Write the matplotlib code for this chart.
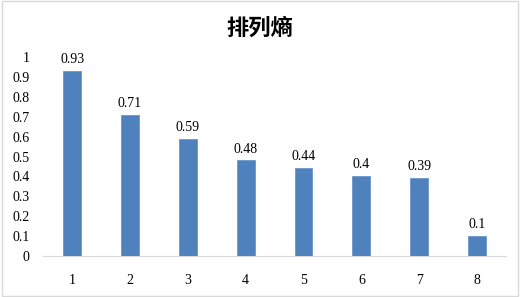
import matplotlib.pyplot as plt

categories = ["1", "2", "3", "4", "5", "6", "7", "8"]
values = [0.93, 0.71, 0.59, 0.48, 0.44, 0.4, 0.39, 0.1]
yticks = [0, 0.1, 0.2, 0.3, 0.4, 0.5, 0.6, 0.7, 0.8, 0.9, 1]
ytick_labels = ["0", "0.1", "0.2", "0.3", "0.4", "0.5", "0.6", "0.7", "0.8", "0.9", "1"]

plt.rcParams['font.family'] = ['Liberation Serif', 'DejaVu Serif']

fig = plt.figure(figsize=(5.2, 2.97), dpi=100)
ax = fig.add_axes([0.083, 0.138, 0.89, 0.67])

x_pos = list(range(len(categories)))
bars = ax.bar(x_pos, values, width=0.31, color='#4F81BD', edgecolor='#6B96CC', linewidth=0.6)

for i, v in enumerate(values):
    ax.text(i, v + 0.025, str(v), ha='center', va='bottom', fontsize=10)

ax.set_xlim(-0.5, len(categories) - 0.5)
ax.set_ylim(0, 1)
ax.set_xticks(x_pos)
ax.set_xticklabels(categories, fontsize=10)
ax.set_yticks(yticks)
ax.set_yticklabels(ytick_labels, fontsize=10)
ax.tick_params(length=0)
ax.tick_params(axis='x', pad=13)
ax.tick_params(axis='y', pad=10)

for side in ['top', 'right', 'left']:
    ax.spines[side].set_visible(False)
ax.spines['bottom'].set_color('#D9D9D9')
ax.spines['bottom'].set_linewidth(0.8)

fig.text(0.5, 0.905, "排列熵", ha='center', va='center', fontsize=16, fontweight='bold',
         family=['Noto Sans CJK SC', 'DejaVu Sans'])

border = plt.Rectangle((0.003, 0.005), 0.994, 0.99, transform=fig.transFigure,
                       fill=False, edgecolor='#D9D9D9', linewidth=1)
fig.patches.append(border)

fig.savefig("out.png", dpi=100)
